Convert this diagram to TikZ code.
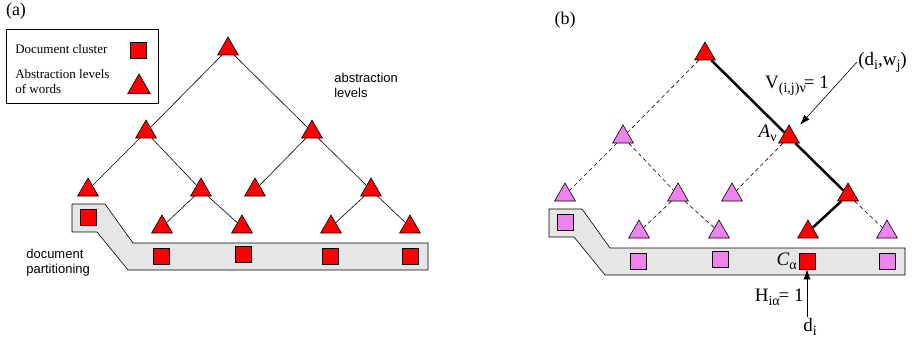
\documentclass[tikz,border=0pt]{standalone}
\usepackage{fontspec}
\setmainfont{Liberation Serif}
\setsansfont{Liberation Sans}
\usetikzlibrary{shapes.geometric,arrows.meta}

\definecolor{bandgray}{RGB}{230,230,230}
\definecolor{pinkv}{RGB}{238,130,238}
\newcommand{\lowsub}[1]{\raisebox{-0.45ex}{\fontsize{14}{14}\selectfont #1}}

\tikzset{every picture/.style={line width=0.6pt}}
\tikzset{
  tri/.style={regular polygon, regular polygon sides=3, draw=black, fill=red, minimum size=24pt, inner sep=0pt},
  doc/.style={rectangle, draw=black, fill=red, minimum size=16pt, inner sep=0pt},
  pinkfill/.style={fill=pinkv},
  band/.style={draw=black, fill=bandgray},
  legendtxt/.style={font=\fontsize{13}{15}\selectfont, anchor=west, align=left, inner sep=0pt},
  sanstxt/.style={font=\sffamily\fontsize{13}{15}\selectfont, anchor=west, align=left, inner sep=0pt},
  paneltxt/.style={font=\fontsize{18}{20}\selectfont, inner sep=0pt},
  lbl/.style={font=\fontsize{19}{21}\selectfont, inner sep=1pt},
  thickedge/.style={line width=2.5pt},
  dashedge/.style={dash pattern=on 4pt off 3pt},
  arr/.style={-{Latex[length=10pt,width=7pt]}},
}

\begin{document}
\begin{tikzpicture}[x=1pt,y=-1pt]
        \useasboundingbox (0,0) rectangle (912,345);

        % panel (a)
        \node[paneltxt] (pa) at (16,11) {(a)};
        \draw (6,29) rectangle (158,103);
        \node[legendtxt] (lgdoc) at (15,49) {Document cluster};
        \node[legendtxt] (lgabs) at (15,82) {Abstraction levels\\of words};
        \node[doc] (lgsq) at (138,50) {};
        \node[tri, minimum size=26pt] (lgtri) at (139,87) {};

        \node[tri] (a1) at (228,49) {};
        \node[tri] (a21) at (146,132) {};
        \node[tri] (a22) at (312,132) {};
        \node[tri] (a31) at (88,190) {};
        \node[tri] (a32) at (201,190) {};
        \node[tri] (a33) at (255,190) {};
        \node[tri] (a34) at (371,190) {};
        \node[tri] (a41) at (162,227) {};
        \node[tri] (a42) at (242,227) {};
        \node[tri] (a43) at (331,227) {};
        \node[tri] (a44) at (410,227) {};
        \draw (a1) -- (a21);
        \draw (a1) -- (a22);
        \draw (a21) -- (a31);
        \draw (a21) -- (a32);
        \draw (a22) -- (a33);
        \draw (a22) -- (a34);
        \draw (a32) -- (a41);
        \draw (a32) -- (a42);
        \draw (a34) -- (a43);
        \draw (a34) -- (a44);

        \draw[band] (72,204) -- (105,204) -- (133,243) -- (428,243) -- (428,270) -- (128,270) -- (97,232) -- (72,232) -- cycle;
        \node[doc] (ac0) at (88,217) {};
        \node[doc] (ac1) at (161,256) {};
        \node[doc] (ac2) at (243,254) {};
        \node[doc] (ac3) at (330,256) {};
        \node[doc] (ac4) at (410,256) {};

        \node[sanstxt] (abslev) at (334,85) {abstraction\\levels};
        \node[sanstxt] (docpart) at (26,263) {document\\partitioning};

        % panel (b)
        \node[paneltxt] (pb) at (565,20) {(b)};
        \begin{scope}[shift={(477,5)}]
            \node[tri] (b1) at (228,49) {};
            \node[tri, pinkfill] (b21) at (146,132) {};
            \node[tri] (b22) at (312,132) {};
            \node[tri, pinkfill] (b31) at (88,190) {};
            \node[tri, pinkfill] (b32) at (201,190) {};
            \node[tri, pinkfill] (b33) at (255,190) {};
            \node[tri] (b34) at (371,190) {};
            \node[tri, pinkfill] (b41) at (162,227) {};
            \node[tri, pinkfill] (b42) at (242,227) {};
            \node[tri] (b43) at (331,227) {};
            \node[tri, pinkfill] (b44) at (410,227) {};
            \draw[dashedge] (b1) -- (b21);
            \draw[dashedge] (b21) -- (b31);
            \draw[dashedge] (b21) -- (b32);
            \draw[dashedge] (b22) -- (b33);
            \draw[dashedge] (b32) -- (b41);
            \draw[dashedge] (b32) -- (b42);
            \draw[dashedge] (b34) -- (b44);
            \draw[thickedge] (b1) -- (b22);
            \draw[thickedge] (b22) -- (b34);
            \draw[thickedge] (b34) -- (b43);

            \draw[band] (72,204) -- (105,204) -- (133,243) -- (428,243) -- (428,270) -- (128,270) -- (97,232) -- (72,232) -- cycle;
            \node[doc, pinkfill] (bc0) at (88,217) {};
            \node[doc, pinkfill] (bc1) at (161,256) {};
            \node[doc, pinkfill] (bc2) at (243,254) {};
            \node[doc] (bc3) at (330,256) {};
            \node[doc, pinkfill] (bc4) at (410,256) {};
        \end{scope}

        \node[lbl] (vlab) at (797,86) {V\lowsub{(i,j)ν}\kern-2pt= 1};
        \node[lbl, anchor=west] (dw) at (857,62) {(d\lowsub{i},w\lowsub{j})};
        \node[lbl, anchor=east] (av) at (778,133) {\textit{A}\lowsub{ν}};
        \node[lbl, anchor=east] (ca) at (798,261) {\textit{C}\lowsub{α}};
        \node[lbl, anchor=east] (hlab) at (805,297) {H\lowsub{iα}\kern-1pt= 1};
        \node[lbl] (di) at (810,327) {d\lowsub{i}};
        \draw[arr, shorten >=10pt] (dw.west) -- (b22);
        \draw[arr] (di.north -| bc3) -- (bc3);
\end{tikzpicture}
\end{document}
